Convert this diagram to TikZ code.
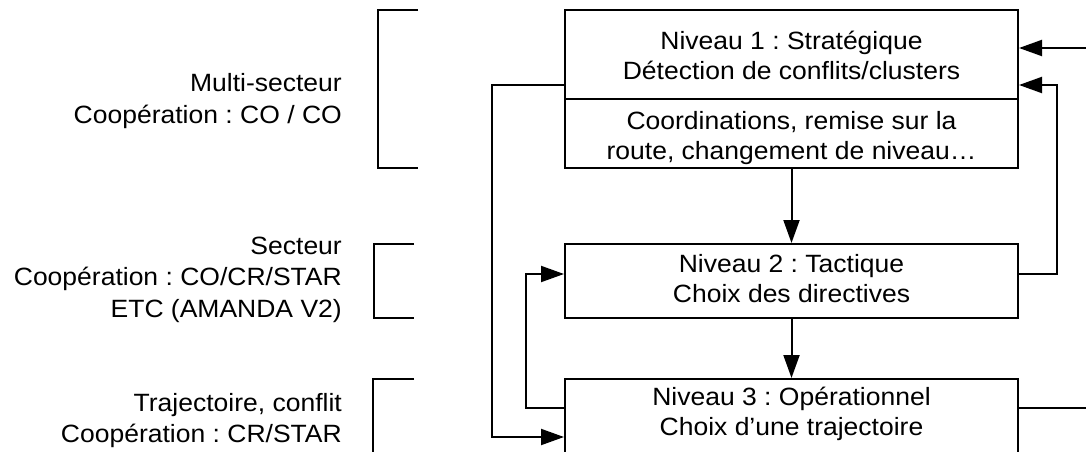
\documentclass[tikz,border=0pt]{standalone}
\usepackage{fontspec}
\setmainfont{Liberation Sans}[FakeStretch=1.06]
\usetikzlibrary{arrows.meta,calc}
\frenchspacing
\begin{document}
\begin{tikzpicture}[x=1pt,y=-1pt,
  ln/.style={line width=2pt,line join=miter},
  arr/.style={ln,-{Triangle[length=23pt,width=16pt]}},
  box/.style={draw,line width=2pt,minimum width=453pt,inner sep=0pt},
  txt/.style={font=\fontsize{25pt}{30pt}\selectfont,inner sep=0pt,anchor=base},
  lbl/.style={font=\fontsize{25pt}{30pt}\selectfont,inner sep=0pt,anchor=base east}]
\useasboundingbox (0,0) rectangle (1086,452);
\clip (0,0) rectangle (1086,452);
% boxes
\node[box,minimum height=158pt] (b1) at (791.5,89) {};
\node[box,minimum height=74pt] (b2) at (791.5,281) {};
\node[box,minimum height=78pt] (b3) at (791.5,418) {};
\draw[ln] (b1.west |- 0,99) -- (b1.east |- 0,99);
% box texts
\node[txt] (t11) at (791.5,50) {Niveau 1 : Stratégique};
\node[txt] (t12) at (791.5,79) {Détection de conflits/clusters};
\node[txt] (t13) at (791.5,129) {Coordinations, remise sur la};
\node[txt] (t14) at (791.5,159) {route, changement de niveau\dots};
\node[txt] (t21) at (791.5,272) {Niveau 2 : Tactique};
\node[txt] (t22) at (791.5,302) {Choix des directives};
\node[txt] (t31) at (791.5,405) {Niveau 3 : Opérationnel};
\node[txt] (t32) at (791.5,435) {Choix d’une trajectoire};
% left labels
\node[lbl] (l11) at (342,92) {Multi-secteur};
\node[lbl] (l12) at (342,123) {Coopération : CO / CO};
\node[lbl] (l21) at (342,254) {Secteur};
\node[lbl] (l22) at (342,285) {Coopération : CO/CR/STAR};
\node[lbl] (l23) at (342,317) {ETC (AMANDA V2)};
\node[lbl] (l31) at (342,411) {Trajectoire, conflit};
\node[lbl] (l32) at (342,442) {Coopération : CR/STAR};
% brackets
\draw[ln] (418,10) -- (378,10) -- (378,168) -- (418,168);
\draw[ln] (414,244) -- (374,244) -- (374,318) -- (414,318);
\draw[ln] (414,379) -- (373,379) -- (373,460);
% connectors
\coordinate (tin) at (1092,48);
\coordinate (tout) at (1092,408);
\draw[arr] (b1.south) -- (b2.north);
\draw[arr] (b2.south) -- (b3.north);
\draw[arr] (tin) -- (tin -| b1.east);
\draw[ln] (tout -| b3.east) -- (tout);
\draw[arr] ([yshift=7pt]b2.east) -- ++(38,0) |- ([yshift=4pt]b1.east);
\draw[arr] ([yshift=4pt]b1.west) -- ++(-72,0) |- ([yshift=-19pt]b3.west);
\draw[arr] ([yshift=10pt]b3.west) -- ++(-38,0) |- ([yshift=7pt]b2.west);
\end{tikzpicture}
\end{document}
